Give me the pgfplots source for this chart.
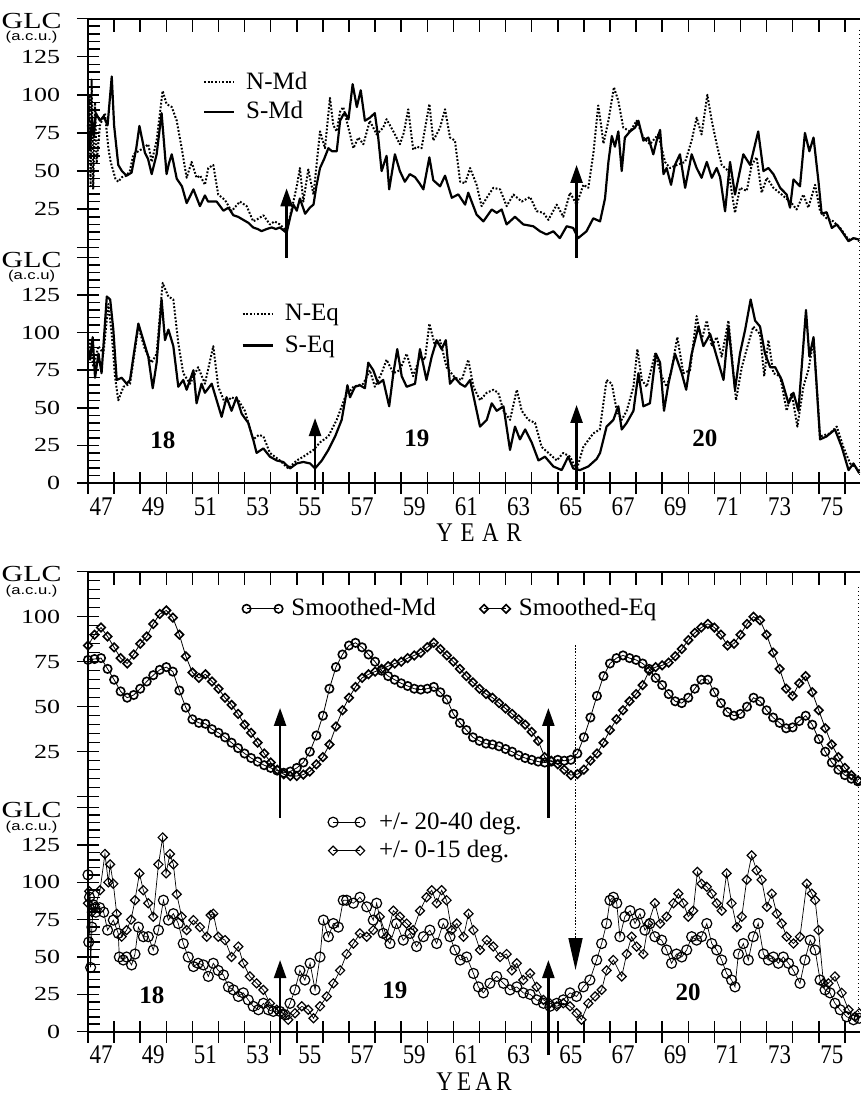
\documentclass[border=0pt]{standalone}
\usepackage{fontspec}
\setmainfont{Liberation Serif}
\setsansfont{Liberation Sans}
\usepackage{pgfplots}
\usepackage{pgfplotstable}
\pgfplotsset{compat=1.18}
\usetikzlibrary{arrows.meta}

\newcommand{\glc}[1]{\raisebox{-4.8pt}[0pt][0pt]{\makebox[22pt][c]{\fontsize{11.5}{11.5}\selectfont GLC}}\llap{\raisebox{-11.2pt}[0pt][0pt]{\makebox[22pt][c]{\sffamily\fontsize{6.4}{6.4}\selectfont #1}}}\hspace{4.6pt}}
\newcommand{\legfont}{\fontsize{12.5}{12.5}\selectfont}

% ---------- Panel A : Md ----------
\pgfplotstableread{
x y
47.00 80
47.08 65
47.15 85
47.22 72
47.30 88
47.46 83
47.60 86
47.75 80
47.91 112
48.00 80
48.16 54
48.30 50
48.48 47
48.67 49
48.85 65
48.97 79.6
49.18 62
49.30 58
49.44 48
49.63 61
49.82 88
50.01 48
50.10 55
50.21 61
50.40 45
50.60 40
50.78 29
51.04 38
51.29 27
51.48 34
51.60 30
51.74 30
51.93 30
52.19 24
52.38 26
52.57 21
52.75 20
52.95 18
53.15 16
53.33 13
53.50 12
53.65 10.6
53.85 12
54.04 13
54.20 12
54.35 13
54.61 9.5
54.75 20
54.87 28
55.00 24
55.12 32
55.32 22
55.50 26
55.64 28
55.75 40
55.89 52
56.05 58
56.21 65
56.35 63
56.53 63
56.66 83
56.78 87
56.85 88
56.98 84
57.14 107
57.30 92
57.45 103
57.61 83
57.80 85
57.99 88
58.12 72
58.25 50
58.44 60
58.54 38
58.76 61
58.95 50
59.14 43
59.33 48
59.53 46
59.70 42
59.85 38
60.08 59
60.23 44
60.49 40
60.68 47
60.94 32.5
61.19 34.7
61.45 28
61.57 35.8
61.89 21.4
62.15 17
62.47 24.8
62.66 22.6
62.85 24.8
63.04 15
63.36 20
63.68 15
64.06 13.8
64.32 10.5
64.57 8.4
64.83 10.5
65.08 6
65.34 13.8
65.59 12.7
65.78 6
66.10 10.5
66.36 19
66.62 17
66.81 32
66.94 56
67.07 73
67.19 66
67.32 76
67.45 50
67.57 72
67.77 76
67.96 78.5
68.09 83
68.28 70
68.47 72
68.66 61
68.79 70
68.92 77
69.05 48
69.17 52
69.34 41
69.49 54
69.68 61
69.88 39
70.13 61
70.32 52
70.51 45.6
70.71 56
70.90 45.6
71.09 52
71.22 46
71.41 23.6
71.60 56
71.79 34.6
72.11 61
72.37 54
72.68 76
72.88 50
73.07 52
73.26 48
73.52 39
73.77 34.6
73.90 26
74.03 44.5
74.28 40
74.47 75
74.64 63
74.80 72
74.99 43
75.11 22
75.30 23
75.50 12.7
75.69 15
75.88 10.6
76.14 4
76.33 6
76.55 5
}\SMd

\pgfplotstableread{
x y
47.00 60
47.05 100
47.10 40
47.14 110
47.20 38
47.27 95
47.33 55
47.46 80
47.65 88
47.78 65
47.87 56
48.05 45
48.16 43
48.30 46
48.48 47
48.60 50
48.74 61
48.93 63
49.12 65
49.31 67.6
49.44 56
49.63 70
49.86 102.6
50.01 94
50.21 92
50.40 83
50.59 65
50.78 45.6
50.97 56
51.16 45.6
51.30 47
51.48 41
51.61 52
51.80 54
51.99 34.6
52.25 31
52.50 23.7
52.82 30
53.08 27
53.33 17
53.55 19
53.72 21
53.97 15
54.15 17
54.35 15
54.61 10.6
54.87 30
55.00 40
55.12 52
55.25 30
55.44 51
55.64 34.6
55.89 76
56.08 65
56.27 98
56.40 80
56.53 76
56.66 89
56.78 92
56.91 83
57.17 65
57.36 72
57.55 67.6
57.80 83
58.06 74
58.31 78.5
58.44 84
58.70 76
58.95 67.6
59.10 75
59.27 90.5
59.46 64
59.60 66
59.78 65
60.08 94
60.23 70
60.49 78.5
60.68 90.5
60.87 72
61.06 70
61.26 43
61.45 42
61.64 52
61.89 41
62.08 27
62.28 32.5
62.53 39
62.79 38
63.04 27
63.30 34.6
63.62 30
63.94 33
64.19 23.7
64.45 22.6
64.64 18
64.96 28
65.21 20
65.47 35.8
65.72 28
65.98 41
66.17 39
66.36 61
66.55 93
66.66 80
66.75 68
66.94 83
67.15 105
67.32 96
67.51 78.5
67.77 76
68.02 83
68.28 72
68.53 67.6
68.85 74
69.11 56
69.30 52
69.56 54
69.88 56
70.13 70
70.32 85
70.51 74
70.73 100
70.90 83
71.09 67.6
71.28 54
71.54 50
71.79 22.6
71.98 39
72.24 37
72.43 54
72.62 59
72.81 35.8
73.01 45.6
73.26 39
73.58 34.6
73.96 29
74.15 24.8
74.41 34.6
74.60 26
74.86 41
75.05 23.7
75.30 19
75.56 17
75.82 12.7
76.14 5
76.39 6
76.55 4
}\NMd

% ---------- Panel B : Eq ----------
\pgfplotstableread{
x y
47.00 90
47.08 82
47.18 97
47.27 70
47.40 86
47.52 73
47.72 124
47.85 122
47.97 102
48.10 68.5
48.29 70
48.48 66
48.61 68.5
48.74 84
48.93 106
49.12 95
49.31 84
49.48 63
49.63 80
49.82 122
49.95 95
50.08 102
50.27 91
50.46 64
50.65 68.5
50.78 62
51.04 75
51.16 53
51.35 66
51.48 60
51.74 66
51.93 55
52.12 44
52.31 57
52.50 48
52.69 57
52.89 46
53.14 40
53.33 28.9
53.46 20
53.72 23
53.97 17.5
54.23 15
54.48 14
54.74 9.7
55.00 13
55.25 14
55.51 13
55.70 9.7
55.96 15
56.21 22
56.47 31
56.72 42
56.85 55
56.94 65
57.04 57
57.23 64
57.42 65
57.61 63
57.74 80
57.93 75
58.12 66
58.31 68.5
58.54 51
58.70 73
58.85 89
59.02 71
59.21 64
59.53 66
59.72 89
59.97 68.5
60.17 84
60.36 95
60.55 89
60.71 95
60.87 66
61.06 70
61.26 66
61.45 64
61.64 68.5
61.83 53
62.02 37.5
62.28 42
62.47 53
62.66 48
62.92 51
63.17 22
63.36 37.5
63.55 29
63.75 35.6
64.00 27
64.26 15
64.51 17.5
64.83 11
65.15 8.6
65.40 17.5
65.59 9.7
65.85 8.6
66.17 11
66.49 16
66.62 20
66.87 37.5
67.13 42
67.32 51
67.45 35.6
67.64 40
67.90 48
68.09 73
68.28 51
68.53 53
68.76 86
68.92 80
69.07 48
69.24 66
69.49 86
69.75 73
69.92 62
70.13 86
70.39 104
70.58 91
70.84 99
71.09 84
71.35 68.5
71.54 104
71.79 62
71.98 86
72.18 102
72.39 122
72.56 108
72.75 104
72.94 86
73.14 77
73.33 77
73.58 68.5
73.84 53
74.03 60
74.22 48
74.51 115
74.64 84
74.80 97
75.05 29
75.30 31
75.62 35.6
75.88 24
76.14 8.6
76.33 13
76.55 6.5
}\SEq

\pgfplotstableread{
x y
47.00 85
47.08 95
47.20 77
47.40 91
47.59 86
47.78 119
47.91 99
48.04 70
48.16 55
48.36 64
48.61 66
48.93 104
49.18 89
49.44 80
49.63 86
49.86 133
50.08 124
50.27 122
50.46 93
50.65 73
50.91 66
51.22 77
51.48 66
51.80 91
51.99 64
52.25 53
52.50 57
52.76 55
53.01 48
53.33 29
53.55 32
53.72 31
53.97 20
54.35 15
54.67 9.7
55.00 15
55.25 17.5
55.64 22
55.89 27
56.21 31
56.53 42
56.85 57
57.17 64
57.55 66
57.80 75
57.99 64
58.25 73
58.44 82
58.70 73
58.95 75
59.21 86
59.46 71
59.72 84
59.91 82
60.08 106
60.30 91
60.49 95
60.74 77
61.06 70
61.32 68.5
61.57 82
61.77 64
62.02 55
62.28 60
62.53 62
62.72 60
62.92 48
63.17 42
63.43 62
63.62 48
63.87 42
64.13 40
64.38 24
64.64 20
64.96 15
65.21 20
65.47 17.5
65.72 8.6
65.98 24
66.36 33
66.61 35.6
66.87 68.5
67.07 66
67.26 48
67.45 42
67.64 48
67.90 64
68.05 89
68.22 68.5
68.41 64
68.73 86
68.98 71
69.17 64
69.36 75
69.58 97
69.81 73
70.07 75
70.32 111
70.51 95
70.71 108
70.90 91
71.09 97
71.28 84
71.54 108
71.83 55
72.05 77
72.24 89
72.49 104
72.75 99
72.91 71
73.07 95
73.26 73
73.52 71
73.77 48
73.96 60
74.18 37.5
74.41 64
74.60 75
74.80 95
75.05 31
75.43 33
75.69 37.5
75.94 24
76.20 13
76.55 8.6
}\NEq

% ---------- Panel C : smoothed ----------
\pgfplotstableread{
x y
47.00 76
47.25 76.5
47.50 77
47.75 71
48.00 65
48.25 58.5
48.50 55
48.75 56.5
49.00 60
49.25 64
49.50 67.5
49.75 70.5
50.00 72
50.25 69.5
50.50 59
50.75 49.5
51.00 43
51.25 41
51.50 40.5
51.75 37.5
52.00 35.5
52.25 33
52.50 30
52.75 27
53.00 24
53.25 21.5
53.50 19.5
53.75 17.5
54.00 16
54.25 14.5
54.50 13.3
54.75 14
55.00 16
55.25 19
55.50 25
55.75 34
56.00 45
56.25 60
56.50 72
56.75 79
57.00 84
57.25 85.5
57.50 83
57.75 79
58.00 75
58.25 70
58.50 67
58.75 65
59.00 63
59.25 61.5
59.50 60
59.75 59.5
60.00 60
60.25 61
60.50 58
60.75 54
61.00 46
61.25 41
61.50 37
61.75 33
62.00 31
62.25 29.5
62.50 29
62.75 28
63.00 26.5
63.25 25
63.50 23
63.75 21.5
64.00 20.5
64.25 19.5
64.50 19
64.75 19.5
65.00 20.5
65.25 20
65.50 20.5
65.75 24
66.00 33
66.25 44
66.50 56
66.75 67
67.00 74
67.25 77
67.50 78.5
67.75 77
68.00 76
68.25 74
68.50 71
68.75 66
69.00 62
69.25 57
69.50 53
69.75 52
70.00 55
70.25 60
70.50 65
70.75 65
71.00 58
71.25 52
71.50 47
71.75 45
72.00 46
72.25 50
72.50 55
72.75 53
73.00 48
73.25 44
73.50 41
73.75 38
74.00 38.5
74.25 42
74.50 45
74.75 40
75.00 32
75.25 25
75.50 19
75.75 15
76.00 12
76.25 10
76.50 8.5
}\SmMd

\pgfplotstableread{
x y
47.00 84
47.25 90
47.50 94
47.75 89
48.00 83
48.25 77
48.50 74
48.75 79
49.00 85
49.25 89
49.50 96
49.75 101.5
50.00 103.5
50.25 99.5
50.50 90
50.75 78
51.00 69
51.25 66
51.50 68
51.75 64
52.00 60
52.25 55
52.50 51
52.75 46
53.00 40
53.25 35.5
53.50 30
53.75 24
54.00 19
54.25 15
54.50 12.5
54.75 11.5
55.00 11.5
55.25 12.3
55.50 14
55.75 18
56.00 22
56.25 29
56.50 39
56.75 48
57.00 55
57.25 61
57.50 66
57.75 68
58.00 69.5
58.25 71
58.50 72.5
58.75 74
59.00 75
59.25 77
59.50 78.5
59.75 80
60.00 83
60.25 85.5
60.50 82
60.75 78.5
61.00 75
61.25 71
61.50 67
61.75 63.5
62.00 60
62.25 57
62.50 55
62.75 52
63.00 49
63.25 46
63.50 43
63.75 40
64.00 36
64.25 31
64.50 22
64.75 20
65.00 18
65.25 15
65.50 12
65.75 12.5
66.00 15
66.25 20
66.50 24
66.75 30
67.00 37
67.25 43
67.50 48
67.75 53
68.00 57
68.25 62
68.50 70
68.75 72
69.00 73
69.25 74.5
69.50 78
69.75 82
70.00 87
70.25 91
70.50 94
70.75 96
71.00 94
71.25 90
71.50 84
71.75 85
72.00 90
72.25 96
72.50 100
72.75 98
73.00 90
73.25 80
73.50 71
73.75 60
74.00 56
74.25 63
74.50 67
74.75 58
75.00 48
75.25 38
75.50 29
75.75 22
76.00 16
76.25 12
76.50 9
}\SmEq

% ---------- Panel D : latitude bands ----------
\pgfplotstableread{
x y
47.00 105
47.03 60
47.06 90
47.10 43
47.15 70
47.20 85
47.30 80
47.45 83
47.60 80
47.75 68
47.97 74.7
48.16 65.8
48.20 50
48.35 48
48.48 50
48.67 44.7
48.80 52
48.93 70
49.12 63.6
49.31 63.6
49.50 54.7
49.70 68
49.89 88
50.08 74.7
50.27 79
50.46 72.4
50.65 59
50.84 50
51.04 43.6
51.22 45.8
51.42 44.7
51.61 37
51.80 45.8
51.99 41
52.19 38
52.38 30
52.57 28
52.76 23.6
52.95 26
53.14 21.3
53.33 17
53.53 14.7
53.72 19
53.91 14.7
54.10 13.6
54.35 13.6
54.55 11.3
54.74 19
54.93 28
55.12 41
55.31 34.6
55.51 45.8
55.70 28
55.89 50
56.02 74.7
56.21 63.6
56.40 72.4
56.59 70
56.78 88
56.91 88
57.17 86
57.42 90
57.68 83.6
57.93 74.7
58.06 86
58.31 65.8
58.57 59
58.82 72.4
59.08 61.3
59.34 65.8
59.59 57
59.85 63.6
60.10 68
60.36 59
60.61 72.4
60.87 63.6
61.06 54.7
61.26 48
61.51 50
61.77 39
61.96 30
62.15 26
62.40 32.4
62.66 37
62.92 32.4
63.17 28
63.43 30
63.68 26
63.94 25
64.19 21.3
64.45 19
64.70 17
64.96 19
65.21 21.3
65.47 26
65.72 23.6
65.98 30
66.23 34.6
66.49 48
66.68 59
66.87 72.4
67.00 88
67.13 90
67.26 86
67.38 63.6
67.57 77
67.77 81
67.96 72.4
68.15 79
68.34 68
68.53 72.4
68.72 63.6
68.98 61.3
69.17 54.7
69.36 45.8
69.55 52
69.75 50
69.94 54.7
70.13 63.6
70.32 61.3
70.51 63.6
70.71 72.4
70.90 59
71.09 54.7
71.28 48
71.47 39
71.66 34.6
71.79 30
71.92 52
72.11 59
72.30 48
72.49 63.6
72.68 72.4
72.88 52
73.07 48
73.26 50
73.45 45.8
73.64 50
73.84 45.8
74.03 41
74.28 32.4
74.47 48
74.67 61.3
74.86 54.7
75.05 34.6
75.24 28
75.43 26
75.62 19
75.82 14.7
76.07 10
76.33 8
76.55 9
}\Dmid

\pgfplotstableread{
x y
47.00 86
47.05 94
47.15 80
47.27 83.6
47.46 94.7
47.65 119
47.78 100
47.85 112
47.97 99
48.10 79
48.29 63.6
48.48 68
48.65 75
48.80 88
48.97 106
49.12 94.7
49.31 86
49.50 77
49.70 112
49.86 130
49.99 106
50.14 119
50.27 112
50.40 92
50.59 77
50.78 68
51.04 74.7
51.29 70
51.55 63.6
51.70 78
51.80 79
51.99 63.6
52.25 61.3
52.50 50
52.76 57
52.95 45.8
53.20 37
53.46 32.4
53.72 28
53.97 19
54.23 14.7
54.48 12.4
54.67 8
54.93 12.4
55.19 17
55.44 14.7
55.64 9
55.89 17
56.15 23.6
56.40 32.4
56.66 41
56.91 52
57.17 59
57.42 65.8
57.68 63.6
57.93 68
58.18 77
58.44 63.6
58.70 81
58.95 77
59.21 72.4
59.46 68
59.72 81
59.97 90
60.17 94.7
60.36 86
60.55 94.7
60.74 88
60.93 68
61.13 72.4
61.39 63.6
61.58 79
61.77 68
62.02 54.7
62.28 61.3
62.53 57
62.79 50
63.04 52
63.24 41
63.43 45.8
63.68 34.6
63.94 39
64.19 30
64.45 21.3
64.70 19
64.96 17
65.21 19
65.47 17
65.72 12.4
65.91 8
66.17 19
66.43 23.6
66.68 28
66.87 41
67.13 48
67.45 37
67.64 52
67.83 63.6
68.02 57
68.28 52
68.47 72.4
68.72 86
68.92 72.4
69.17 77
69.43 86
69.62 92.4
69.81 86
70.00 77
70.19 81
70.35 107
70.51 99
70.71 97
70.90 92.4
71.09 86
71.28 81
71.47 106
71.66 86
71.86 70
72.05 77
72.24 101.7
72.43 118
72.62 108
72.81 101.7
73.01 83.6
73.20 92.4
73.39 79
73.58 72.4
73.77 63.6
74.03 59
74.28 63.6
74.54 99
74.73 92.4
74.86 88
74.99 68
75.18 32.4
75.37 32.4
75.62 37
75.88 26
76.14 14.7
76.39 10
76.55 12.4
}\Deq

\tikzset{
  arr/.style={black, line width=1.2pt, -{Triangle[length=9pt,width=6pt]}},
  bignum/.style={font=\bfseries\fontsize{12.5}{12.5}\selectfont},
}
\pgfplotsset{
  panel/.style={
    scale only axis, width=386pt,
    xmin=47, xmax=76.58, ymin=0,
    clip=false,
    axis y line=left,
    tick style={black, line width=0.75pt},
    tick align=center,
    major tick length=11pt,
    yticklabel style={font=\fontsize{10}{10}\selectfont, xscale=1.3, anchor=east, inner sep=0pt, xshift=-6.25pt},
    extra y tick style={tick align=inside, major tick length=6pt, yticklabel={}},
    extra y tick labels={},
    legend cell align=left,
  },
  nolinearrows/.style={
    axis line style={-, line width=1pt},
    every outer x axis line/.append style={-},
    every inner x axis line/.append style={-},
    every outer y axis line/.append style={-},
    every inner y axis line/.append style={-},
    x axis line style={-}, y axis line style={-},
  },
  toppanel/.style={
    axis x line=top, xtick=\empty,
    extra x ticks={48,...,76},
    extra x tick style={tick align=inside, major tick length=6.5pt, xticklabel={}},
    extra x tick labels={},
    nolinearrows,
  },
  botpanel/.style={
    axis x line=bottom, xtick={47,...,76}, xticklabels={},
    extra x ticks={47.5,49.5,...,75.5},
    extra x tick labels={47,49,51,53,55,57,59,61,63,65,67,69,71,73,75},
    extra x tick style={major tick length=0pt},
    xticklabel style={font=\fontsize{13.5}{13.5}\selectfont, xscale=0.85, anchor=north, inner sep=0pt, yshift=-7pt},
    nolinearrows,
  },
  dl/.style={black, line width=1pt, dash pattern=on 0.9pt off 0.9pt, line join=round},
  sl/.style={black, line width=1.1pt, line join=round},
  limgA/.style={legend image code/.code={\draw[##1] plot coordinates {(0pt,0pt) (16pt,0pt)};}},
  limgB/.style={legend image code/.code={\draw[##1] plot coordinates {(0pt,0pt) (11pt,0pt)};}},
  limgD/.style={legend image code/.code={\draw[##1] plot coordinates {(0pt,0pt) (13.5pt,0pt)};}},
  limgL/.style={legend image code/.code={\draw[##1] (0pt,0pt) -- (15pt,0pt);}},
}

\begin{document}
\begin{tikzpicture}
\useasboundingbox (0pt,0pt) rectangle (430.5pt,-548.5pt);

% ===== Panel A =====
\begin{axis}[panel, toppanel,
  at={(44pt,-123.65pt)}, anchor=south west, height=114.35pt,
  ymax=150,
  ytick={0,25,...,150}, yticklabels={,25,50,75,100,125,{\glc{(a.c.u.)}}},
  extra y ticks={5,10,15,20,30,35,40,45,55,60,65,70,80,85,90,95,105,110,115,120,130,135,140,145},
  legend style={draw=none, fill=none, at={(0.1485,0.786)}, anchor=north west, inner xsep=0pt, inner ysep=0pt, row sep=0.6pt, column sep=3.5pt, font=\legfont},
  limgL,
]
\addplot[dl] table {\NMd};
\addlegendentry{N-Md}
\addplot[sl] table {\SMd};
\addlegendentry{S-Md}
\draw[arr] (axis cs:54.61,-7) -- (axis cs:54.61,38.7);
\draw[arr] (axis cs:65.72,-7) -- (axis cs:65.72,54);
\end{axis}

% ===== Panel B =====
\begin{axis}[panel, botpanel,
  at={(44pt,-241.5pt)}, anchor=south west, height=112.8pt,
  ymax=150,
  ytick={0,25,...,150}, yticklabels={0,25,50,75,100,125,{\glc{(a.c.u)}}},
  extra y ticks={5,10,15,20,30,35,40,45,55,60,65,70,80,85,90,95,105,110,115,120,130,135,140,145},
  legend style={draw=none, fill=none, at={(0.1985,0.812)}, anchor=north west, inner xsep=0pt, inner ysep=0pt, row sep=2.1pt, column sep=3.5pt, font=\legfont},
  limgL,
]
\addplot[dl] table {\NEq};
\addlegendentry{N-Eq}
\addplot[sl] table {\SEq};
\addlegendentry{S-Eq}
\draw[arr] (axis cs:55.70,-4.7) -- (axis cs:55.70,43.2);
\draw[arr] (axis cs:65.72,-4.7) -- (axis cs:65.72,51.9);
\node[bignum] at (axis cs:49.87,28.6) {18};
\node[bignum] at (axis cs:59.6,29.9) {19};
\node[bignum] at (axis cs:70.64,29.9) {20};
\end{axis}

% ===== Panel C =====
\begin{axis}[panel, toppanel,
  at={(44pt,-398.35pt)}, anchor=south west, height=112.5pt,
  ymax=125,
  ytick={0,25,...,125}, yticklabels={,25,50,75,100,{\glc{(a.c.u.)}}},
  extra y ticks={5,10,15,20,30,35,40,45,55,60,65,70,80,85,90,95,105,110,115,120},
  legend columns=2,
  legend style={draw=none, fill=none, at={(0.1995,0.9)}, anchor=north west, inner xsep=0pt, inner ysep=0pt, column sep=2.3pt, font=\legfont, /tikz/every even column/.append style={column sep=20pt}},
]
\addplot[black, line width=0.4pt, mark=o, mark size=2.1pt, mark options={line width=0.8pt}, limgA] table {\SmMd};
\addlegendentry{Smoothed-Md}
\addplot[black, line width=0.4pt, mark=square, mark size=1.5pt, mark options={rotate=45, line width=0.8pt}, limgB] table {\SmEq};
\addlegendentry{Smoothed-Eq}
\draw[arr] (axis cs:54.36,-11.8) -- (axis cs:54.36,49.3);
\draw[arr] (axis cs:64.64,-11.8) -- (axis cs:64.64,49.3);
\end{axis}

% ===== Panel D =====
\begin{axis}[panel, botpanel,
  at={(44pt,-515.85pt)}, anchor=south west, height=112.05pt,
  ymax=150,
  ytick={0,25,...,150}, yticklabels={0,25,50,75,100,125,{\glc{(a.c.u.)}}},
  extra y ticks={5,10,15,20,30,35,40,45,55,60,65,70,80,85,90,95,105,110,115,120,130,135,140,145},
  legend style={draw=none, fill=none, at={(0.3105,1.0)}, anchor=north west, inner xsep=0pt, inner ysep=0pt, row sep=0.1pt, column sep=5pt, font=\legfont},
]
\addplot[black, line width=0.35pt, mark=o, mark size=2.5pt, mark options={line width=0.6pt}, limgD] table {\Dmid};
\addlegendentry{+/- 20-40 deg.}
\addplot[black, line width=0.35pt, mark=square, mark size=1.6pt, mark options={rotate=45, line width=0.6pt}, limgD] table {\Deq};
\addlegendentry{+/- 0-15 deg.}
\draw[arr] (axis cs:54.36,-15.6) -- (axis cs:54.36,48);
\draw[arr] (axis cs:64.64,-15.6) -- (axis cs:64.64,48);
\draw[black, line width=0.8pt, dash pattern=on 0.8pt off 0.8pt, -{Triangle[length=16pt,width=7pt]}] (axis cs:65.68,258.8) -- (axis cs:65.68,41.3);
\node[bignum] at (axis cs:49.45,24.6) {18};
\node[bignum] at (axis cs:58.76,27.9) {19};
\node[bignum] at (axis cs:69.99,26.6) {20};
\end{axis}

% connecting y-axis line segments across the small gaps
\draw[line width=1pt] (44pt,-123.65pt) -- (44pt,-128.7pt);
\draw[line width=1pt] (44pt,-398.35pt) -- (44pt,-403.8pt);
% dotted right-hand frame lines
\draw[line width=0.6pt, dash pattern=on 0.6pt off 1.4pt] (429.6pt,-15pt) -- (429.6pt,-238.5pt);
\draw[line width=0.6pt, dash pattern=on 0.6pt off 1.4pt] (429.2pt,-293.5pt) -- (429.2pt,-508.5pt);
% axis titles
\node[font=\fontsize{13.5}{13.5}\selectfont, xscale=0.85] at (239.5pt,-266.5pt) {Y\hspace{4.5pt}E\hspace{4.5pt}A\hspace{4.5pt}R};
\node[font=\fontsize{13.5}{13.5}\selectfont, xscale=0.85] at (237pt,-541pt) {Y\hspace{2.5pt}E\hspace{2.5pt}A\hspace{2.5pt}R};
\end{tikzpicture}
\end{document}
